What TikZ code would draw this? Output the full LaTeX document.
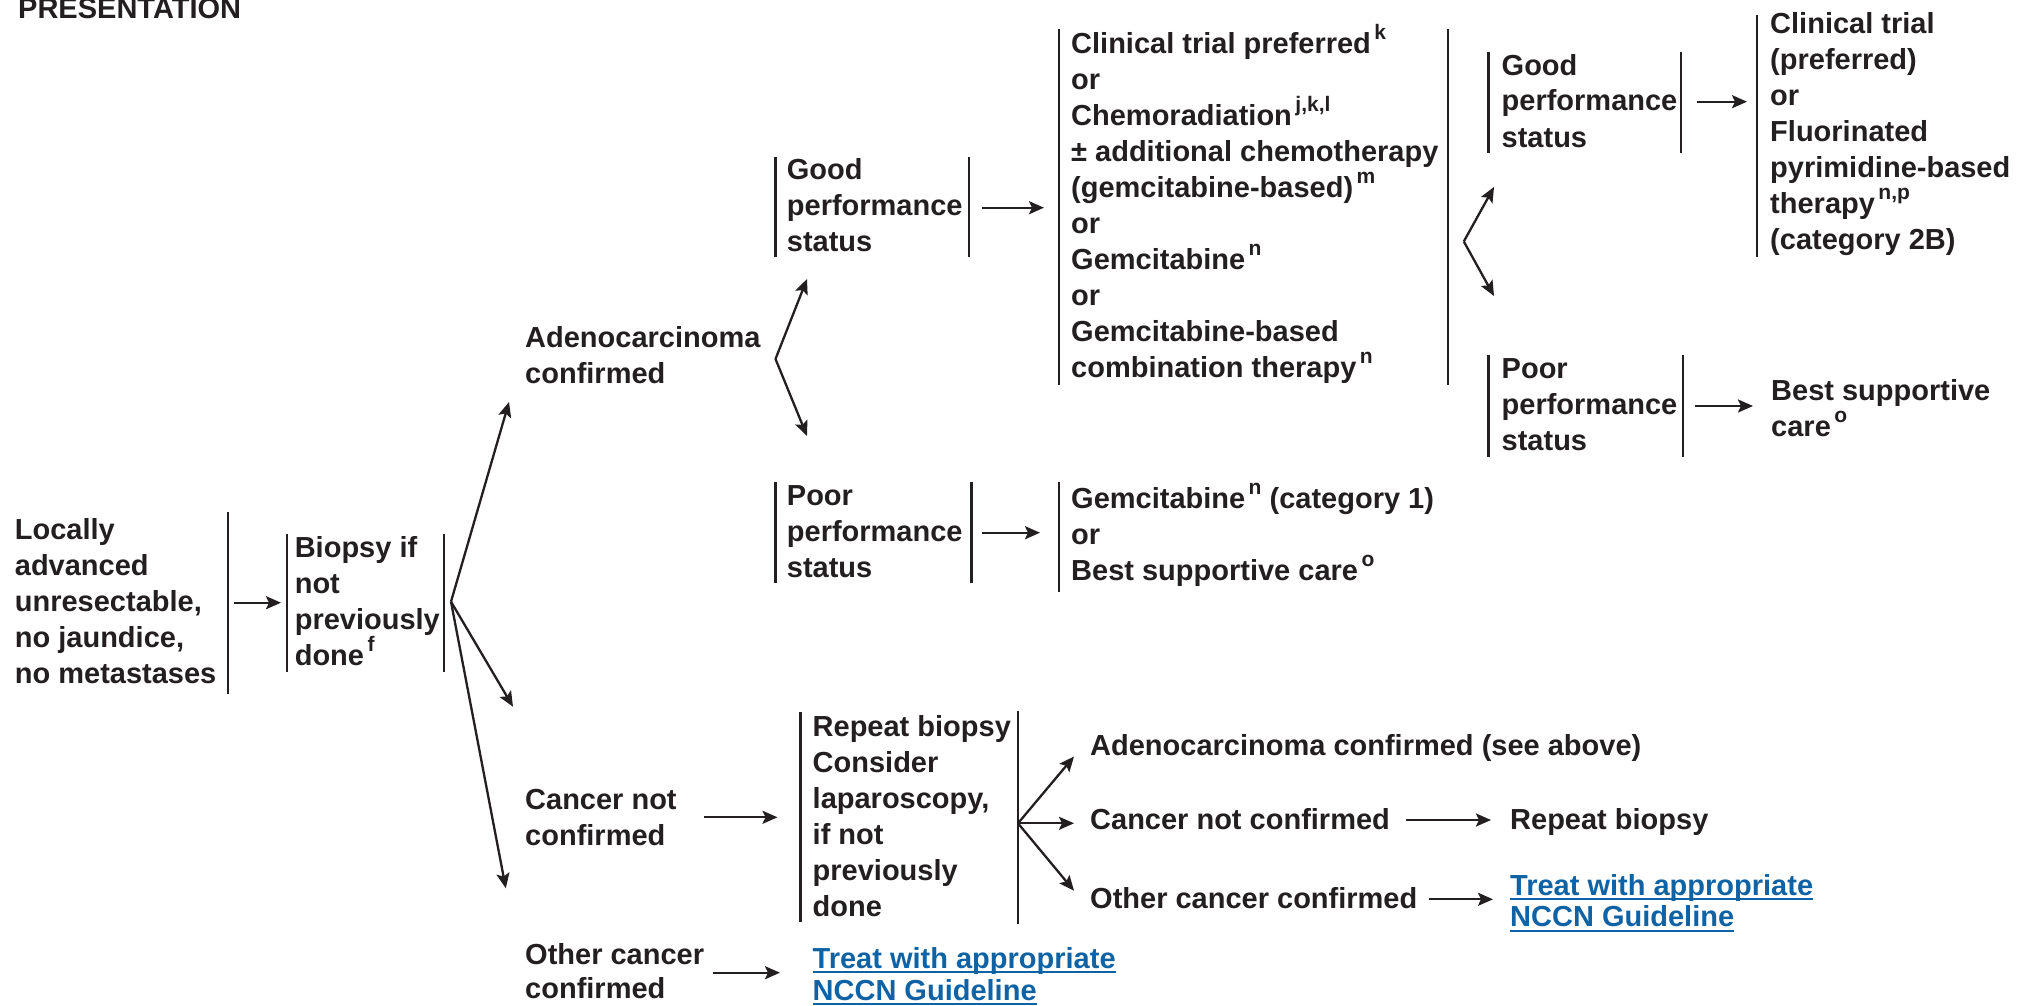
\documentclass[tikz,border=0pt]{standalone}
\usepackage{fontspec}
\setmainfont{Liberation Sans}
\usetikzlibrary{arrows.meta}
\definecolor{ink}{HTML}{231F20}
\definecolor{link}{HTML}{0F63A5}
% footnote markers set as small raised letters
\newcommand\fnref[1]{\hspace{0.12em}\raisebox{0.48em}{\fontsize{21}{21}\selectfont #1}}
% underlined hyperlink text with a heavier rule
\newcommand\linkul[1]{\setbox0\hbox{#1}\rlap{\rule[-5pt]{\wd0}{2pt}}\box0}
\begin{document}
\begin{tikzpicture}[x=1pt,y=-1pt,
  % multi-line nodes are placed by the baseline of their last line
  txt/.style={font=\fontsize{29}{36}\selectfont\bfseries, text=ink, inner sep=0pt, anchor=base west, align=left},
  lnk/.style={txt, text=link, font=\fontsize{29}{31.7}\selectfont\bfseries},
  bar/.style={draw=ink, line width=2.2pt},
  arr/.style={draw=ink, line width=2.3pt, -{Stealth[length=15pt,width=13pt,inset=3pt]}},
]
\useasboundingbox (0,0) rectangle (2024,1006);

% ---- text blocks ----
\node[txt] (title) at (18,18.3) {PRESENTATION};
\node[txt] (loc) at (14.7,683.5) {Locally\\advanced\\unresectable,\\no jaundice,\\no metastases};
\node[txt] (biopsy) at (294.6,665.5) {Biopsy if\\not\\previously\\done\fnref{f}};
\node[txt] (adeno) at (525,383.5) {Adenocarcinoma\\confirmed};
\node[txt] (cnc) at (525,845.7) {Cancer not\\confirmed};
\node[txt, font=\fontsize{29}{33.5}\selectfont\bfseries] (occ) at (525,998.3) {Other cancer\\confirmed};
\node[txt] (good1) at (786.7,251) {Good\\performance\\status};
\node[txt] (poor1) at (786.7,577) {Poor\\performance\\status};
\node[txt] (tx1) at (1071,377) {Clinical trial preferred\fnref{k}\\or\\Chemoradiation\fnref{j,k,l}\\± additional chemotherapy\\(gemcitabine-based)\fnref{m}\\or\\Gemcitabine\fnref{n}\\or\\Gemcitabine-based\\combination therapy\fnref{n}};
\node[txt] (tx2) at (1071,580.5) {Gemcitabine\fnref{n} (category 1)\\or\\Best supportive care\fnref{o}};
\node[txt] (good2) at (1501.5,147) {Good\\performance\\status};
\node[txt] (poor2) at (1501.5,450.5) {Poor\\performance\\status};
\node[txt] (tx3) at (1770,249.7) {Clinical trial\\(preferred)\\or\\Fluorinated\\pyrimidine-based\\therapy\fnref{n,p}\\(category 2B)};
\node[txt] (bsc) at (1771,436.7) {Best supportive\\care\fnref{o}};
\node[txt] (rpt) at (812.5,916.7) {Repeat biopsy\\Consider\\laparoscopy,\\if not\\previously\\done};
\node[txt] (adeno2) at (1090,755) {Adenocarcinoma confirmed (see above)};
\node[txt] (cnc2) at (1090,829.3) {Cancer not confirmed};
\node[txt] (occ2) at (1090,908.3) {Other cancer confirmed};
\node[txt] (rb) at (1510,829.3) {Repeat biopsy};
\node[lnk] (lk1) at (812.5,1000) {\linkul{Treat with appropriate}\\\linkul{NCCN Guideline}};
\node[lnk] (lk2) at (1510,926.7) {\linkul{Treat with appropriate}\\\linkul{NCCN Guideline}};

% ---- bracket bars ----
\draw[bar] (228,511.7) -- (228,694);
\draw[bar] (287,534) -- (287,671.7);
\draw[bar] (444,534) -- (444,671.7);
\draw[bar] (775.5,157) -- (775.5,257);
\draw[bar] (969,157) -- (969,257);
\draw[bar] (775.5,481.7) -- (775.5,582.7);
\draw[bar] (971.4,481.7) -- (971.4,582.7);
\draw[bar] (1058.7,29) -- (1058.7,385);
\draw[bar] (1448,29) -- (1448,385);
\draw[bar] (1058.7,481.7) -- (1058.7,591.7);
\draw[bar] (1488.5,51.7) -- (1488.5,152.7);
\draw[bar] (1681,51.7) -- (1681,152.7);
\draw[bar] (1488.5,355) -- (1488.5,456.7);
\draw[bar] (1683,355) -- (1683,456.7);
\draw[bar] (1757.3,15) -- (1757.3,257);
\draw[bar] (800.4,712.3) -- (800.4,922.3);
\draw[bar] (1018,710.7) -- (1018,924);

% ---- branch points and arrow ends ----
\coordinate (locOut) at (234.4,602.7);
\coordinate (bioIn) at (281,602.7);
\coordinate (bioFork) at (451,601.7);
\coordinate (adenoIn) at (509,402);
\coordinate (cncIn) at (513,706.7);
\coordinate (occIn) at (505.8,888.3);
\coordinate (adenoFork) at (775.5,359);
\coordinate (good1In) at (807,279);
\coordinate (poor1In) at (807,436);
\coordinate (good1Out) at (982,207.7);
\coordinate (tx1In) at (1044,207.7);
\coordinate (poor1Out) at (982,532.7);
\coordinate (tx2In) at (1040,532.7);
\coordinate (tx1Fork) at (1463.8,241.5);
\coordinate (good2In) at (1494,187);
\coordinate (poor2In) at (1494,296);
\coordinate (good2Out) at (1696.5,101.7);
\coordinate (tx3In) at (1747,101.7);
\coordinate (poor2Out) at (1695,406);
\coordinate (bscIn) at (1753,406);
\coordinate (cncOut) at (703.6,817.3);
\coordinate (rptIn) at (777.5,817.3);
\coordinate (occOut) at (713.4,972.7);
\coordinate (lk1In) at (780,972.7);
\coordinate (rptFork) at (1018,823.3);
\coordinate (adeno2In) at (1074,756.5);
\coordinate (cnc2In) at (1074,823.3);
\coordinate (occ2In) at (1074,890.7);
\coordinate (cnc2Out) at (1406.4,820);
\coordinate (rbIn) at (1491,820);
\coordinate (occ2Out) at (1429.4,899.3);
\coordinate (lk2In) at (1493,899.3);

% ---- connectors ----
\draw[arr] (locOut) -- (bioIn);
\draw[arr] (bioFork) -- (adenoIn);
\draw[arr] (bioFork) -- (cncIn);
\draw[arr] (bioFork) -- (occIn);
\draw[arr] (adenoFork) -- (good1In);
\draw[arr] (adenoFork) -- (poor1In);
\draw[arr] (good1Out) -- (tx1In);
\draw[arr] (poor1Out) -- (tx2In);
\draw[arr] (tx1Fork) -- (good2In);
\draw[arr] (tx1Fork) -- (poor2In);
\draw[arr] (good2Out) -- (tx3In);
\draw[arr] (poor2Out) -- (bscIn);
\draw[arr] (cncOut) -- (rptIn);
\draw[arr] (occOut) -- (lk1In);
\draw[arr] (rptFork) -- (adeno2In);
\draw[arr] (rptFork) -- (cnc2In);
\draw[arr] (rptFork) -- (occ2In);
\draw[arr] (cnc2Out) -- (rbIn);
\draw[arr] (occ2Out) -- (lk2In);
\end{tikzpicture}
\end{document}
